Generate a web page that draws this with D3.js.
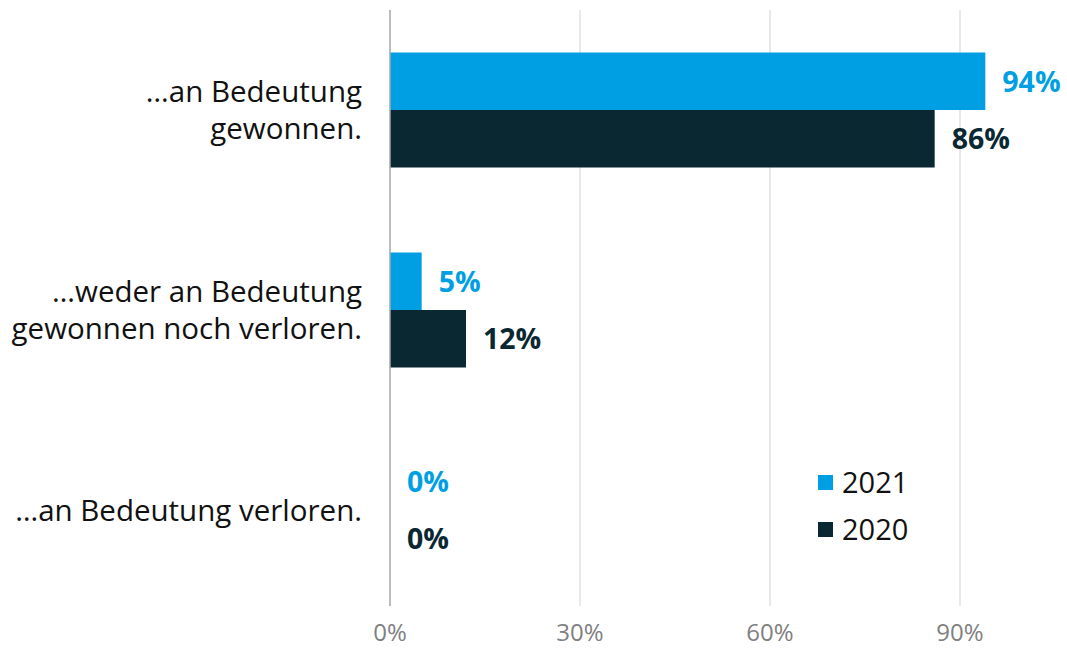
<!DOCTYPE html>
<html><head><meta charset="utf-8">
<script src="https://cdn.jsdelivr.net/npm/d3@7"></script>
<style>body{margin:0;background:#fff}</style>
</head><body><svg id="c" width="1067" height="649"></svg>
<script>
const categories = [["…an Bedeutung","gewonnen."],["…weder an Bedeutung","gewonnen noch verloren."],["…an Bedeutung verloren."]];
const series = ["2021","2020"];
const values2021 = [94, 5, 0];
const values2020 = [86, 12, 0];
const ticks = [0, 30, 60, 90];
const colors = {"2021":"#009FE3","2020":"#0A2832"};

const svg = d3.select("#c");
const font = "'Open Sans', 'Noto Sans', sans-serif";
const x = d3.scaleLinear().domain([0, 90]).range([390, 960]);
const y = d3.scaleBand().domain(d3.range(categories.length)).range([10, 610]).paddingInner(0).paddingOuter(0);
const inner = d3.scaleBand().domain(series).range([42.5, 157.5]).paddingInner(0).paddingOuter(0);

// gridlines
svg.append("g").selectAll("line").data(ticks.filter(t=>t>0)).join("line")
  .attr("x1", d=>x(d)).attr("x2", d=>x(d)).attr("y1", 10).attr("y2", 606)
  .attr("stroke", "#d9d9d9").attr("stroke-width", 1.2);

// bars
const data = [];
categories.forEach((c,i)=>{
  data.push({i, s:"2021", v:values2021[i]});
  data.push({i, s:"2020", v:values2020[i]});
});
svg.append("g").selectAll("rect").data(data).join("rect")
  .attr("x", x(0)).attr("y", d=>y(d.i)+inner(d.s)).attr("height", inner.bandwidth())
  .attr("width", d=>x(d.v)-x(0)).attr("fill", d=>colors[d.s]);

// axis line
svg.append("line").attr("x1", x(0)).attr("x2", x(0)).attr("y1", 10).attr("y2", 606)
  .attr("stroke", "#a6a6a6").attr("stroke-width", 1.5);

// value labels
svg.append("g").selectAll("text").data(data).join("text")
  .attr("x", d=>x(d.v)+17).attr("y", d=>y(d.i)+inner(d.s)+inner.bandwidth()/2)
  .attr("dy", "0.36em").attr("fill", d=>colors[d.s])
  .attr("font-family", font).attr("font-weight", 700).attr("font-size", 28.5)
  .text(d=>d.v+"%");

// category labels
const cat = svg.append("g").selectAll("text").data(categories).join("text")
  .attr("text-anchor","end").attr("font-family", font).attr("font-size", 29.5).attr("fill","#111");
cat.each(function(lines,i){
  const t = d3.select(this);
  const cy = y(i)+y.bandwidth()/2;
  const lh = 37;
  lines.forEach((l,k)=>{
    t.append("tspan").attr("x", 362).attr("y", cy + (k-(lines.length-1)/2)*lh).attr("dy","0.36em").text(l);
  });
});

// x tick labels
svg.append("g").selectAll("text").data(ticks).join("text")
  .attr("x", d=>x(d)).attr("y", 641).attr("text-anchor","middle")
  .attr("font-family", font).attr("font-size", 24).attr("fill","#808080")
  .text(d=>d+"%");

// legend
const lg = svg.append("g").selectAll("g").data(series).join("g")
  .attr("transform", (d,k)=>`translate(818,${483+k*47})`);
lg.append("rect").attr("x",0).attr("y",-8).attr("width",15).attr("height",15).attr("fill", d=>colors[d]);
lg.append("text").attr("x",24).attr("y",0).attr("dy","0.36em")
  .attr("font-family", font).attr("font-size", 29).attr("fill","#111").text(d=>d);
</script></body></html>
